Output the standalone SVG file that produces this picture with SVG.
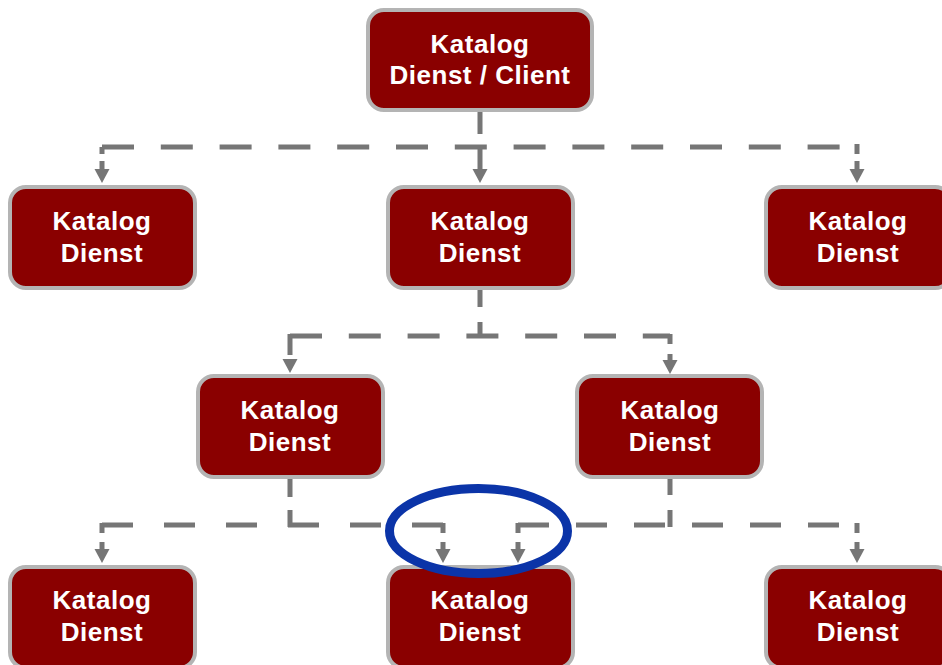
<svg xmlns="http://www.w3.org/2000/svg" width="942" height="665" viewBox="0 0 942 665">
<style>
.node rect{fill:#8a0000;stroke:#b4b4b4;stroke-width:4}
.node text{fill:#ffffff;font-family:"Liberation Sans",Arial,sans-serif;font-weight:bold;font-size:26px;letter-spacing:0.5px;text-anchor:middle}
.c{stroke:#767676;stroke-width:5;fill:none}
.da{stroke-dasharray:32 26.8}
.db{stroke-dasharray:31 31}
.dc{stroke-dasharray:31 27}
.ah{fill:#767676}
</style>
<defs>
<path id="ah" d="M-7.5 0 H7.5 L0 14 Z"/>
</defs>
<rect width="942" height="665" fill="#ffffff"/>
<g id="connectors">
<!-- root to row 2 -->
<path class="c" d="M480 112 V134 M480 145 V170"/>
<path class="c da" d="M102 147 H857"/>
<path class="c" d="M102 147 V154 M102 161 V170 M857 144 V154 M857 161 V170"/>
<use href="#ah" class="ah" x="102" y="169"/>
<use href="#ah" class="ah" x="480" y="169"/>
<use href="#ah" class="ah" x="857" y="169"/>
<!-- row 2 mid to row 3 -->
<path class="c" d="M480 290 V307 M480 322 V338"/>
<path class="c da" d="M290 336 H670"/>
<path class="c" d="M290 334 V355 M670 334 V344 M670 354 V364"/>
<use href="#ah" class="ah" x="290" y="359"/>
<use href="#ah" class="ah" x="670" y="360"/>
<!-- row 3 left to row 4 -->
<path class="c" d="M290 479 V497 M290 510 V527"/>
<path class="c db" d="M102 525 H443"/>
<path class="c" d="M102 523 V533 M102 542 V550 M443 523 V533 M443 542 V550"/>
<use href="#ah" class="ah" x="102" y="549"/>
<use href="#ah" class="ah" x="443" y="549"/>
<!-- row 3 right to row 4 -->
<path class="c" d="M670 479 V495 M670 510 V527"/>
<path class="c dc" d="M518 525 H857"/>
<path class="c" d="M518 523 V533 M518 542 V550 M857 523 V533 M857 542 V550"/>
<use href="#ah" class="ah" x="518" y="549"/>
<use href="#ah" class="ah" x="857" y="549"/>
</g>
<g id="n-root" class="node">
<rect x="368" y="10" width="224" height="100" rx="16"/>
<text x="480" y="53">Katalog</text>
<text x="480" y="84">Dienst / Client</text>
</g>
<g id="n-r2-left" class="node">
<rect x="10" y="187" width="185" height="101" rx="16"/>
<text x="102" y="230">Katalog</text>
<text x="102" y="262">Dienst</text>
</g>
<g id="n-r2-mid" class="node">
<rect x="388" y="187" width="185" height="101" rx="16"/>
<text x="480" y="230">Katalog</text>
<text x="480" y="262">Dienst</text>
</g>
<g id="n-r2-right" class="node">
<rect x="766" y="187" width="185" height="101" rx="16"/>
<text x="858" y="230">Katalog</text>
<text x="858" y="262">Dienst</text>
</g>
<g id="n-r3-left" class="node">
<rect x="198" y="376" width="185" height="101" rx="16"/>
<text x="290" y="419">Katalog</text>
<text x="290" y="451">Dienst</text>
</g>
<g id="n-r3-right" class="node">
<rect x="577" y="376" width="185" height="101" rx="16"/>
<text x="670" y="419">Katalog</text>
<text x="670" y="451">Dienst</text>
</g>
<g id="n-r4-left" class="node">
<rect x="10" y="567" width="185" height="101" rx="16"/>
<text x="102" y="609">Katalog</text>
<text x="102" y="641">Dienst</text>
</g>
<g id="n-r4-mid" class="node">
<rect x="388" y="567" width="185" height="101" rx="16"/>
<text x="480" y="609">Katalog</text>
<text x="480" y="641">Dienst</text>
</g>
<g id="n-r4-right" class="node">
<rect x="766" y="567" width="185" height="101" rx="16"/>
<text x="858" y="609">Katalog</text>
<text x="858" y="641">Dienst</text>
</g>
<ellipse id="highlight" cx="478.5" cy="531" rx="89" ry="42.5" fill="none" stroke="#0b34a8" stroke-width="9"/>
</svg>
